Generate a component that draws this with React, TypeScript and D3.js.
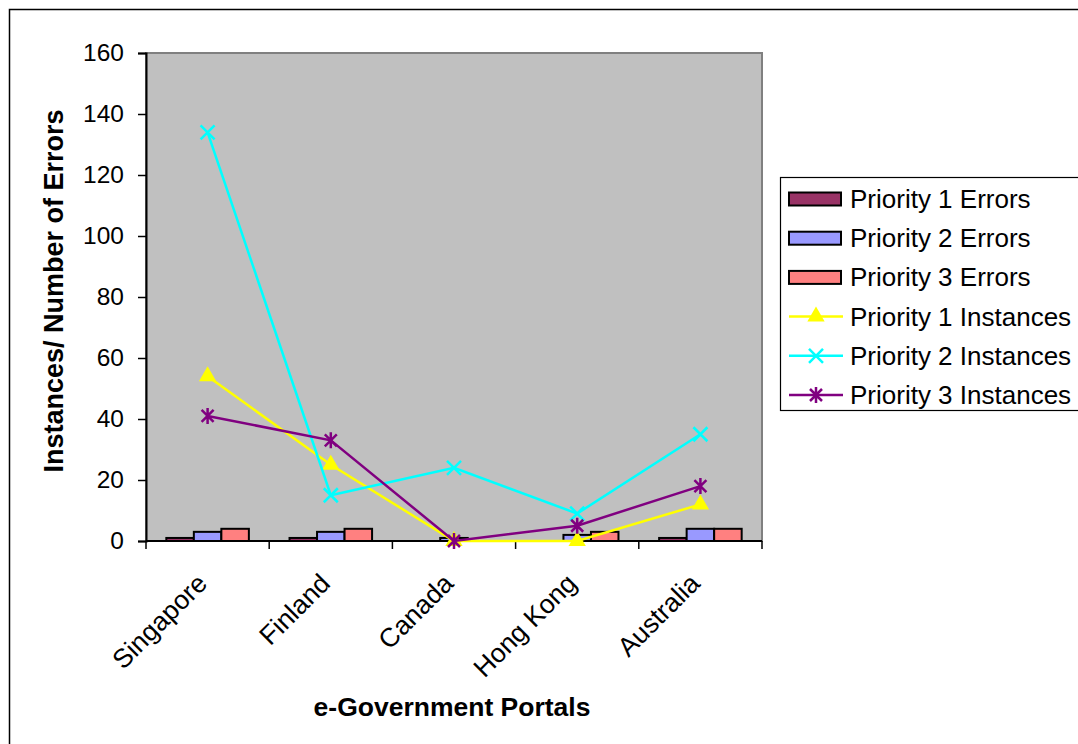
import React, { useEffect, useRef } from 'react';
import * as d3 from 'd3';

const categories = ['Singapore', 'Finland', 'Canada', 'Hong Kong', 'Australia'];
const p1Errors = [1, 1, 0, 0, 1];
const p2Errors = [3, 3, 1, 2, 4];
const p3Errors = [4, 4, 0, 3, 4];
const p1Instances = [54, 25, 0, 0, 12];
const p2Instances = [134, 15, 24, 9, 35];
const p3Instances = [41, 33, 0, 5, 18];
const yTicks = [0, 20, 40, 60, 80, 100, 120, 140, 160];

const barSeries = [
  { key: 'Priority 1 Errors', values: p1Errors, color: '#993366' },
  { key: 'Priority 2 Errors', values: p2Errors, color: '#9999FF' },
  { key: 'Priority 3 Errors', values: p3Errors, color: '#FF8080' },
];
const lineSeries = [
  { key: 'Priority 1 Instances', values: p1Instances, color: '#FFFF00', marker: 'triangle' },
  { key: 'Priority 2 Instances', values: p2Instances, color: '#00FFFF', marker: 'x' },
  { key: 'Priority 3 Instances', values: p3Instances, color: '#800080', marker: 'star' },
];

const FONT = 'Liberation Sans, Arial, sans-serif';

function markerPath(type: string) {
  if (type === 'triangle') return d3.symbol(d3.symbolTriangle, 130)() as string;
  if (type === 'x') return 'M-7,-7L7,7M-7,7L7,-7';
  return 'M-6,-6L6,6M-6,6L6,-6M0,-8L0,8';
}

export default function App() {
  const svgRef = useRef<SVGSVGElement>(null);

  useEffect(() => {
    if (!svgRef.current) return;
    const svg = d3.select(svgRef.current);
    svg.selectAll('*').remove();

    const left = 146, right = 762, top = 53, bottom = 541;

    // outer chart border
    svg.append('rect')
      .attr('x', 9.5).attr('y', 9.5)
      .attr('width', 1100).attr('height', 800)
      .attr('fill', 'white').attr('stroke', '#000').attr('stroke-width', 1.5);

    const x = d3.scaleBand<string>().domain(categories).range([left, right]);
    const bw = x.bandwidth();
    const xSub = d3.scaleBand<number>().domain([0, 1, 2]).range([bw * 0.165, bw * 0.835]);
    const y = d3.scaleLinear().domain([0, 160]).range([bottom, top]);

    // plot area
    svg.append('rect')
      .attr('x', left).attr('y', top)
      .attr('width', right - left).attr('height', bottom - top)
      .attr('fill', '#C0C0C0').attr('stroke', '#808080').attr('stroke-width', 2);

    // bars
    barSeries.forEach((s, si) => {
      svg.append('g').selectAll('rect')
        .data(s.values)
        .enter().append('rect')
        .attr('x', (_, i) => (x(categories[i]) as number) + (xSub(si) as number))
        .attr('y', d => y(d))
        .attr('width', xSub.bandwidth())
        .attr('height', d => bottom - y(d))
        .attr('fill', s.color)
        .attr('stroke', '#000')
        .attr('stroke-width', 2);
    });

    // y axis
    const yAxis = svg.append('g')
      .attr('transform', `translate(${left},0)`)
      .call(d3.axisLeft(y).tickValues(yTicks).tickSize(8).tickPadding(14));
    yAxis.select('.domain').attr('stroke', '#000').attr('stroke-width', 2);
    yAxis.selectAll('.tick line').attr('stroke', '#000').attr('stroke-width', 1.5);
    yAxis.selectAll('.tick text')
      .attr('font-family', FONT).attr('font-size', 24.5).attr('fill', '#000');

    // x axis
    const xAxis = svg.append('g').attr('transform', `translate(0,${bottom})`);
    xAxis.append('line')
      .attr('x1', left).attr('x2', right)
      .attr('stroke', '#000').attr('stroke-width', 2);
    const bounds = categories.map(c => x(c) as number).concat([right]);
    xAxis.selectAll('.xt').data(bounds).enter().append('line')
      .attr('x1', d => d).attr('x2', d => d)
      .attr('y1', 0).attr('y2', 8)
      .attr('stroke', '#000').attr('stroke-width', 1.5);
    xAxis.selectAll('.xl').data(categories).enter().append('text')
      .attr('transform', d => `translate(${(x(d) as number) + bw / 2 + 1},${44}) rotate(-45)`)
      .attr('text-anchor', 'end')
      .attr('font-family', FONT).attr('font-size', 26.5)
      .text(d => d);

    // lines
    const cx = (i: number) => (x(categories[i]) as number) + bw / 2;
    lineSeries.forEach(s => {
      const line = d3.line<number>().x((_, i) => cx(i)).y(d => y(d));
      svg.append('path')
        .datum(s.values)
        .attr('d', line)
        .attr('fill', 'none')
        .attr('stroke', s.color)
        .attr('stroke-width', 2.5);
      svg.append('g').selectAll('path')
        .data(s.values)
        .enter().append('path')
        .attr('transform', (d, i) => `translate(${cx(i)},${y(d)})`)
        .attr('d', markerPath(s.marker))
        .attr('fill', s.marker === 'triangle' ? s.color : 'none')
        .attr('stroke', s.color)
        .attr('stroke-width', s.marker === 'triangle' ? 0 : 2.5);
    });

    // axis titles
    svg.append('text')
      .attr('transform', `translate(63,291) rotate(-90)`)
      .attr('text-anchor', 'middle')
      .attr('font-family', FONT).attr('font-size', 27).attr('font-weight', 'bold')
      .text('Instances/ Number of Errors');
    svg.append('text')
      .attr('x', 452).attr('y', 716)
      .attr('text-anchor', 'middle')
      .attr('font-family', FONT).attr('font-size', 26.5).attr('font-weight', 'bold')
      .text('e-Government Portals');

    // legend
    const lg = svg.append('g');
    lg.append('rect')
      .attr('x', 780.5).attr('y', 177.5)
      .attr('width', 320).attr('height', 233)
      .attr('fill', 'white').attr('stroke', '#000').attr('stroke-width', 1.2);
    const items = [...barSeries, ...lineSeries];
    items.forEach((s: any, i) => {
      const cy = 199 + i * 39.2;
      if (i < 3) {
        lg.append('rect')
          .attr('x', 789).attr('y', cy - 6.5)
          .attr('width', 52).attr('height', 13)
          .attr('fill', s.color).attr('stroke', '#000').attr('stroke-width', 2);
      } else {
        lg.append('line')
          .attr('x1', 789).attr('x2', 843).attr('y1', cy).attr('y2', cy)
          .attr('stroke', s.color).attr('stroke-width', 2.5);
        lg.append('path')
          .attr('transform', `translate(816,${cy})`)
          .attr('d', markerPath(s.marker))
          .attr('fill', s.marker === 'triangle' ? s.color : 'none')
          .attr('stroke', s.color)
          .attr('stroke-width', s.marker === 'triangle' ? 0 : 2.5);
      }
      lg.append('text')
        .attr('x', 850).attr('y', cy + 9)
        .attr('font-family', FONT).attr('font-size', 26)
        .text(s.key);
    });
  }, []);

  return (
    <svg
      ref={svgRef}
      width={1078}
      height={744}
      style={{ position: 'absolute', left: 0, top: 0, background: 'white' }}
    />
  );
}
